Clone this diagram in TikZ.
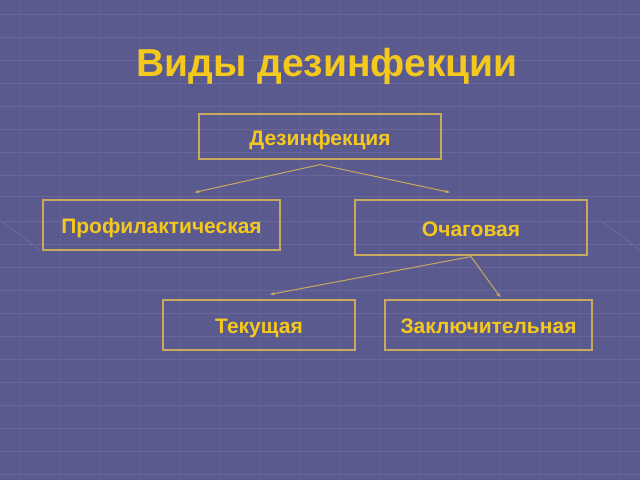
\documentclass[tikz,border=0pt]{standalone}
\usepackage{fontspec}
\setmainfont{Liberation Sans}
\usetikzlibrary{arrows.meta,calc}
\definecolor{slidebg}{RGB}{90,90,143}
\definecolor{gridln}{RGB}{112,112,165}
\definecolor{titleyel}{RGB}{245,200,30}
\definecolor{framegold}{RGB}{200,170,95}
\tikzset{
  kind/.style={draw=framegold, line width=1.2pt, inner sep=0pt, text=titleyel,
    text height=17pt, text depth=0pt,
    font=\fontsize{21}{24}\selectfont\bfseries},
  link/.style={draw=framegold, line width=1pt, -{Stealth[length=5pt,width=3.5pt]}}
}
\begin{document}
\begin{tikzpicture}[x=1pt, y=-1pt]
  \useasboundingbox (0,0) rectangle (640,480);
  \fill[slidebg] (0,0) rectangle (640,480);
  % floor tiles
  \foreach \yy in {14,37,60,83,106,129,152,175,196,221,244,267,290,313,336,359,382,405,428,451,474}
    \draw[gridln, line width=1pt, opacity=0.6] (0,\yy) -- (640,\yy);
  \foreach \xx in {20,60,...,620}
    \draw[gridln, line width=0.6pt, opacity=0.35] (\xx,0) -- (\xx,480);
  \draw[gridln, line width=1pt, opacity=0.6] (0,220) -- (40,250) (640,250) -- (600,220);
  % title
  \node[text=titleyel, font=\fontsize{39}{44}\selectfont\bfseries] (title) at (327,66) {Виды дезинфекции};
  % boxes
  \node[kind, minimum width=242pt, minimum height=45pt] (dez) at (320,136.5) {Дезинфекция};
  \node[kind, minimum width=237pt, minimum height=50pt] (prof) at (161.5,225) {Профилактическая};
  \node[kind, minimum width=232pt, minimum height=55pt] (ochag) at (471,227.5) {Очаговая};
  \node[kind, minimum width=192pt, minimum height=50pt] (tek) at (259,325) {Текущая};
  \node[kind, minimum width=207pt, minimum height=50pt] (zakl) at (488.5,325) {Заключительная};
  % arrows
  \coordinate (dezfoot) at ($(dez.south)+(0,5)$);
  \coordinate (ochfoot) at ($(ochag.south)+(0,1)$);
  \coordinate (profin) at ($(prof.north)+(33,-7)$);
  \coordinate (ochin) at ($(ochag.north)+(-21,-7)$);
  \coordinate (tekin) at ($(tek.north)+(11,-5)$);
  \coordinate (zaklin) at ($(zakl.north)+(12,-2)$);
  \draw[link] (dezfoot) -- (profin);
  \draw[link] (dezfoot) -- (ochin);
  \draw[link] (ochfoot) -- (tekin);
  \draw[link] (ochfoot) -- (zaklin);
\end{tikzpicture}
\end{document}
